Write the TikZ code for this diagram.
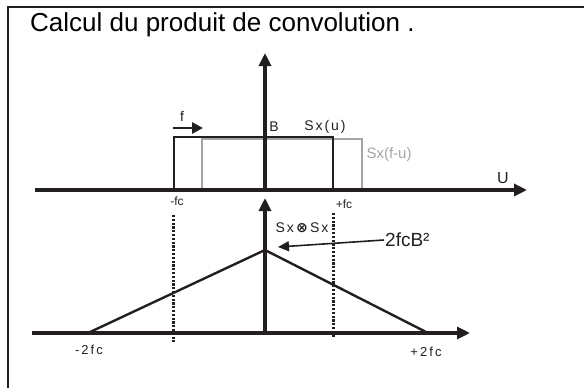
\documentclass[tikz,border=0pt]{standalone}
\usepackage{fontspec}
\setmainfont{Liberation Sans}
\newfontfamily\spaced[LetterSpace=14]{Liberation Sans}
\newfontfamily\wide[LetterSpace=16]{Liberation Sans}
\newfontfamily\symfont{DejaVu Sans}
\usetikzlibrary{arrows.meta}
\definecolor{inkblack}{RGB}{35,31,32}
\definecolor{shiftgray}{RGB}{165,165,165}

\begin{document}
\begin{tikzpicture}[
    x=1pt,y=-1pt,
    axis/.style={line width=3.2pt,draw=inkblack,-{Triangle[length=13pt,width=12pt]}},
    gate/.style={line width=2.4pt,draw=inkblack},
    shifted/.style={line width=2.2pt,draw=shiftgray},
    guide/.style={line width=3pt,draw=inkblack,dash pattern=on 2.2pt off 1.6pt},
    pointer/.style={line width=1.6pt,draw=inkblack,-{Triangle[length=11pt,width=10pt]}},
    lab/.style={font=\spaced\fontsize{14}{16}\selectfont,text=inkblack,inner sep=1pt},
    plain/.style={font=\fontsize{15}{17}\selectfont,text=inkblack,inner sep=1pt}
]
    \useasboundingbox (0,0) rectangle (584,388);
    % frame and title
    \draw[line width=1.4pt,inkblack] (8,388) -- (8,7) -- (584,7);
    \node[anchor=base west,font=\fontsize{26}{30}\selectfont,inner sep=0pt] (title) at (30,31) {Calcul du produit de convolution .};

    % upper graph : Sx(u) and Sx(f-u)
    \coordinate (u0) at (35,190);
    \coordinate (u1) at (527,190);
    \coordinate (v0) at (265,190);
    \coordinate (v1) at (265,53);
    \draw[shifted] (202,139) rectangle (362,191);
    \draw[gate] (174,190) -- (174,137) -- (333,137) -- (333,190);
    \draw[axis] (u0) -- (u1);
    \draw[axis] (v0) -- (v1);
    \coordinate (fa) at (173,128);
    \coordinate (fb) at (203,128);
    \draw[line width=2.8pt,inkblack,-{Triangle[length=11pt,width=11pt]}] (fa) -- (fb);

    \node[lab] (f) at (182,116) {f};
    \node[lab] (b) at (274,127) {B};
    \node[lab] (sxu) at (325,127) {Sx(u)};
    \node[plain,text=shiftgray] (sxfu) at (389,155) {Sx(f-u)};
    \node[plain,font=\fontsize{16}{18}\selectfont] (u) at (503,178) {U};
    \node[plain,font=\fontsize{12}{14}\selectfont] (mfc) at (177,201) {-fc};
    \node[plain,font=\fontsize{12}{14}\selectfont] (pfc) at (344,204) {+fc};

    % lower graph : Sx conv Sx
    \coordinate (l0) at (32,333);
    \coordinate (l1) at (470,333);
    \coordinate (w0) at (265,333);
    \coordinate (w1) at (265,198);
    \coordinate (peak) at (265,250);
    \coordinate (left) at (88,333);
    \coordinate (right) at (428,333);
    \draw[guide] (173,215) -- (173,342);
    \draw[guide] (333,213) -- (333,338);
    \draw[gate] (left) -- (peak) -- (right);
    \draw[axis] (l0) -- (l1);
    \draw[axis] (w0) -- (w1);

    \node[lab] (conv) at (302,228) {Sx\,{\symfont\bfseries ⊗}\,Sx};
    \node[plain,anchor=west,font=\fontsize{19}{21}\selectfont] (amp) at (384,240) {2fcB²};
    \coordinate (amptip) at (278,247);
    \draw[pointer] (amp.west) -- (amptip);
    \node[lab,font=\wide\fontsize{13}{15}\selectfont] (m2fc) at (89,350) {-2fc};
    \node[lab,font=\wide\fontsize{13}{15}\selectfont] (p2fc) at (426,352) {+2fc};
\end{tikzpicture}
\end{document}
